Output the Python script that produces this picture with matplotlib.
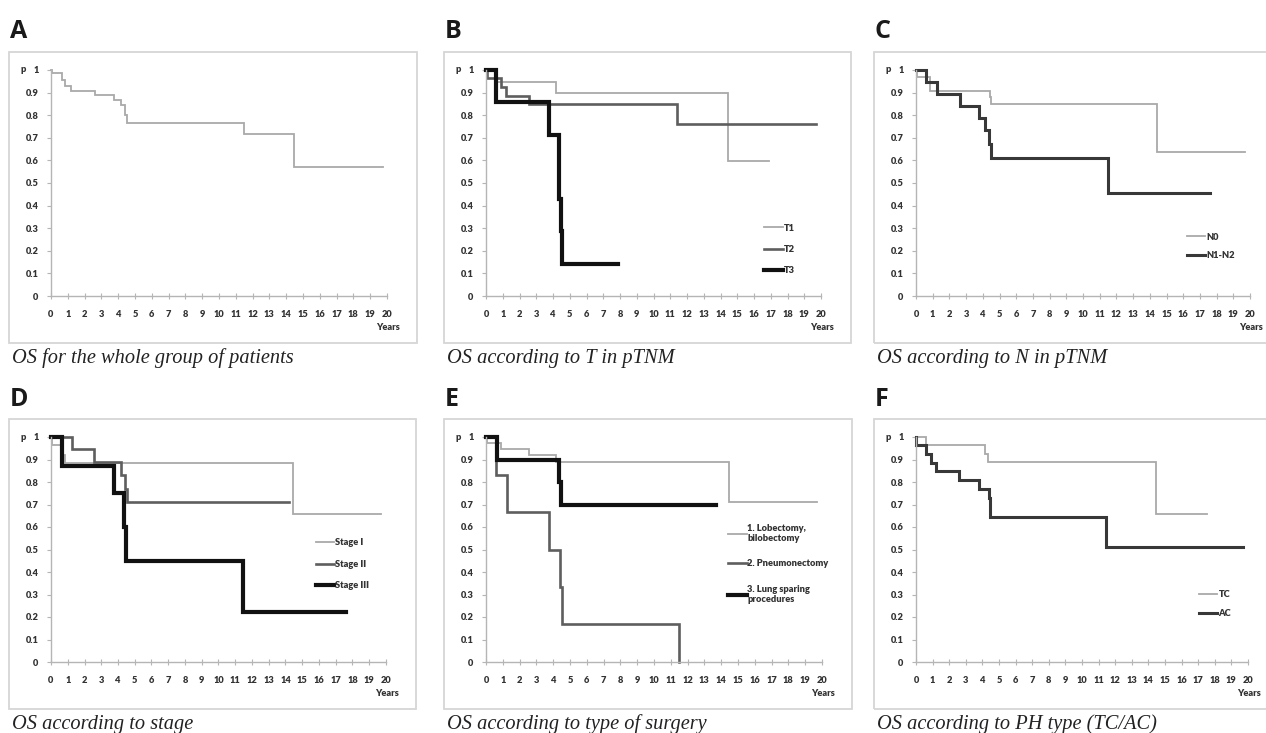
import matplotlib
matplotlib.use("Agg")
import matplotlib.pyplot as plt
from matplotlib.patches import Rectangle

# ---- data (time in years, survival p) ----
A_t = [0, 0.05, 0.64, 0.83, 1.2, 2.62, 3.77, 4.17, 4.41, 4.5, 11.5, 14.44, 19.76]
A_s = [1, 0.985, 0.955, 0.93, 0.908, 0.888, 0.866, 0.845, 0.80, 0.764, 0.717, 0.572, 0.572]

T1_t = [0, 0.6, 4.18, 14.42, 16.9]
T1_s = [1, 0.948, 0.897, 0.597, 0.597]
T2_t = [0, 0.03, 0.9, 1.2, 2.59, 11.43, 19.72]
T2_s = [1, 0.963, 0.926, 0.885, 0.848, 0.761, 0.761]
T3_t = [0, 0.62, 3.76, 4.38, 4.48, 4.54, 7.87]
T3_s = [1, 0.857, 0.714, 0.429, 0.286, 0.143, 0.143]

N0_t = [0, 0.03, 0.86, 4.45, 4.5, 14.46, 19.7]
N0_s = [1, 0.968, 0.909, 0.88, 0.848, 0.637, 0.637]
N12_t = [0, 0.62, 1.26, 2.61, 3.79, 4.15, 4.39, 4.49, 11.47, 17.6]
N12_s = [1, 0.948, 0.894, 0.841, 0.789, 0.735, 0.673, 0.612, 0.457, 0.457]

S1_t = [0, 0.03, 0.64, 0.85, 14.44, 19.7]
S1_s = [1, 0.963, 0.92, 0.886, 0.66, 0.66]
S2_t = [0, 1.27, 2.59, 4.16, 4.4, 4.52, 14.18]
S2_s = [1, 0.945, 0.888, 0.833, 0.771, 0.713, 0.713]
S3_t = [0, 0.64, 3.74, 4.36, 4.48, 11.45, 17.6]
S3_s = [1, 0.871, 0.75, 0.6, 0.45, 0.224, 0.224]

L1_t = [0, 0.03, 0.89, 2.58, 4.17, 14.44, 19.7]
L1_s = [1, 0.975, 0.945, 0.919, 0.889, 0.709, 0.709]
L2_t = [0, 0.6, 1.23, 3.77, 4.41, 4.51, 11.46]
L2_s = [1, 0.833, 0.665, 0.5, 0.332, 0.168, 0.0]
L3_t = [0, 0.64, 4.37, 4.47, 13.68]
L3_s = [1, 0.9, 0.798, 0.7, 0.7]

TC_t = [0, 0.62, 4.17, 4.33, 14.45, 17.53]
TC_s = [1, 0.963, 0.926, 0.889, 0.66, 0.66]
AC_t = [0, 0.03, 0.62, 0.92, 1.22, 2.62, 3.77, 4.37, 4.47, 11.44, 19.7]
AC_s = [1, 0.963, 0.926, 0.886, 0.849, 0.81, 0.768, 0.73, 0.645, 0.513, 0.513]

x_ticks = list(range(0, 21))
y_ticks = [0, 0.1, 0.2, 0.3, 0.4, 0.5, 0.6, 0.7, 0.8, 0.9, 1]
y_ticklabels = ["0", "0.1", "0.2", "0.3", "0.4", "0.5", "0.6", "0.7", "0.8", "0.9", "1"]

LIGHT = dict(color="#a9a9a9", lw=1.3)
MID = dict(color="#5e5e5e", lw=1.9)
DARK = dict(color="#383838", lw=2.2)
BLACK = dict(color="#111111", lw=3.0)

W, H = 1266, 733
fig = plt.figure(figsize=(W / 100, H / 100), dpi=100)
fig.patch.set_facecolor("white")

lab_font = "Lato"
lab_size = 6.7


def box(x0, y0, x1, y1):
    fig.patches.append(Rectangle((x0 / W, 1 - y1 / H), (x1 - x0) / W, (y1 - y0) / H,
                                 transform=fig.transFigure, fill=False,
                                 edgecolor="#d6d6d6", lw=1.3))


def panel(x0, x1, ytop, ybot, letter, caption, curves, legend=None):
    bx0 = x0 - 42
    by0 = ytop - 18
    bx1 = x1 + 30
    by1 = ybot + 47
    box(bx0, by0, bx1, by1)
    fig.text((bx0 + 1) / W, 1 - (by0 - 20) / H, letter, fontsize=18, fontweight="bold",
             family="Open Sans", va="center", ha="left", color="#1a1a1a")
    fig.text((bx0 + 3) / W, 1 - (by1 + 20) / H, caption, fontsize=14.7, style="italic",
             family="Liberation Serif", va="baseline", ha="left", color="#222222")

    ax = fig.add_axes([x0 / W, 1 - ybot / H, (x1 - x0) / W, (ybot - ytop) / H])
    for t, s, st, lab in curves:
        ax.step(t, s, where="post", label=lab, clip_on=False, solid_joinstyle="miter", **st)
    ax.set_xlim(0, 20)
    ax.set_ylim(0, 1)
    for sp in ["top", "right"]:
        ax.spines[sp].set_visible(False)
    for sp in ["left", "bottom"]:
        ax.spines[sp].set_color("#b5b5b5")
        ax.spines[sp].set_linewidth(1.0)
    ax.set_xticks(x_ticks)
    ax.set_yticks(y_ticks)
    ax.set_yticklabels(y_ticklabels)
    ax.tick_params(axis="both", length=3, width=0.8, color="#b5b5b5", labelsize=lab_size,
                   labelcolor="#333333", pad=6)
    ax.tick_params(axis="x", direction="inout", length=4, pad=8)
    for lbl in ax.get_xticklabels() + ax.get_yticklabels():
        lbl.set_fontweight("heavy")
        lbl.set_family(lab_font)
    wpx = x1 - x0
    hpx = ybot - ytop
    ax.text(-28 / wpx, 1.0, "p", transform=ax.transAxes, fontsize=lab_size, fontweight="heavy",
            family=lab_font, color="#333333", ha="center", va="center")
    ax.text(1 + 13 / wpx, -31 / hpx, "Years", transform=ax.transAxes, fontsize=lab_size,
            fontweight="heavy", family=lab_font, color="#333333", ha="right", va="center")
    if legend is not None:
        lx, ly, spacing = legend
        leg = ax.legend(loc="upper left", bbox_to_anchor=(lx, ly), frameon=False,
                        borderpad=0, borderaxespad=0, handlelength=2.0, handletextpad=0.1,
                        labelspacing=spacing, prop=dict(family=lab_font, weight="heavy",
                                                        size=lab_size))
        for txt in leg.get_texts():
            txt.set_color("#333333")
    return ax


panel(51, 387, 70, 296, "A", "OS for the whole group of patients",
      [(A_t, A_s, LIGHT, "All")])
panel(486, 821, 70, 296, "B", "OS according to T in pTNM",
      [(T1_t, T1_s, LIGHT, "T1"), (T2_t, T2_s, MID, "T2"), (T3_t, T3_s, BLACK, "T3")],
      legend=(0.83, 0.32, 1.3))
panel(916, 1250, 70, 296, "C", "OS according to N in pTNM",
      [(N0_t, N0_s, LIGHT, "N0"), (N12_t, N12_s, DARK, "N1-N2")],
      legend=(0.81, 0.28, 1.0))
panel(51, 386, 437, 662, "D", "OS according to stage",
      [(S1_t, S1_s, LIGHT, "Stage I"), (S2_t, S2_s, MID, "Stage II"),
       (S3_t, S3_s, BLACK, "Stage III")],
      legend=(0.79, 0.55, 1.35))
panel(486, 822, 437, 662, "E", "OS according to type of surgery",
      [(L1_t, L1_s, LIGHT, "1. Lobectomy,\nbilobectomy"),
       (L2_t, L2_s, MID, "2. Pneumonectomy"),
       (L3_t, L3_s, BLACK, "3. Lung sparing\nprocedures")],
      legend=(0.72, 0.615, 1.75))
panel(916, 1248, 437, 662, "F", "OS according to PH type (TC/AC)",
      [(TC_t, TC_s, LIGHT, "TC"), (AC_t, AC_s, DARK, "AC")],
      legend=(0.852, 0.318, 1.05))

fig.savefig("out.png", dpi=100, facecolor="white")
